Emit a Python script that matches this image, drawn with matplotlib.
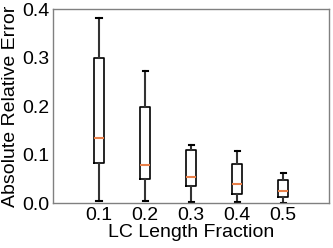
import matplotlib
matplotlib.use("Agg")
import matplotlib.pyplot as plt

categories = ["0.1", "0.2", "0.3", "0.4", "0.5"]
whislo = [0.004, 0.004, 0.002, 0.002, 0.001]
q1 = [0.084, 0.051, 0.035, 0.020, 0.013]
med = [0.134, 0.079, 0.054, 0.040, 0.025]
q3 = [0.300, 0.199, 0.111, 0.081, 0.048]
whishi = [0.383, 0.273, 0.121, 0.108, 0.0625]

plt.rcParams['font.family'] = ['Liberation Sans', 'DejaVu Sans']

fig = plt.figure(figsize=(3.33, 2.48), dpi=100)
ax = fig.add_axes([0.159, 0.18, 0.83, 0.782])

stats = []
for i, c in enumerate(categories):
    stats.append(dict(label=c, whislo=whislo[i], q1=q1[i], med=med[i],
                      q3=q3[i], whishi=whishi[i], fliers=[]))

ax.bxp(stats, positions=range(1, 6), widths=0.22, showfliers=False,
       boxprops=dict(color='black', linewidth=1.2),
       whiskerprops=dict(color='#333333', linewidth=1.5),
       capprops=dict(color='black', linewidth=1.5),
       medianprops=dict(color='#e8804a', linewidth=1.5))

ax.set_xlim(0, 6)
ax.set_ylim(0, 0.4)
ax.set_yticks([0.0, 0.1, 0.2, 0.3, 0.4])
ax.set_yticklabels(["0.0", "0.1", "0.2", "0.3", "0.4"])
ax.tick_params(axis='both', length=0, labelsize=14, pad=2.5)
ax.set_xlabel("LC Length Fraction", fontsize=14, labelpad=0)
ax.set_ylabel("Absolute Relative Error", fontsize=14, labelpad=2)
for s in ax.spines.values():
    s.set_color('#808080')
    s.set_linewidth(1.0)

fig.savefig("out.png", dpi=100)
